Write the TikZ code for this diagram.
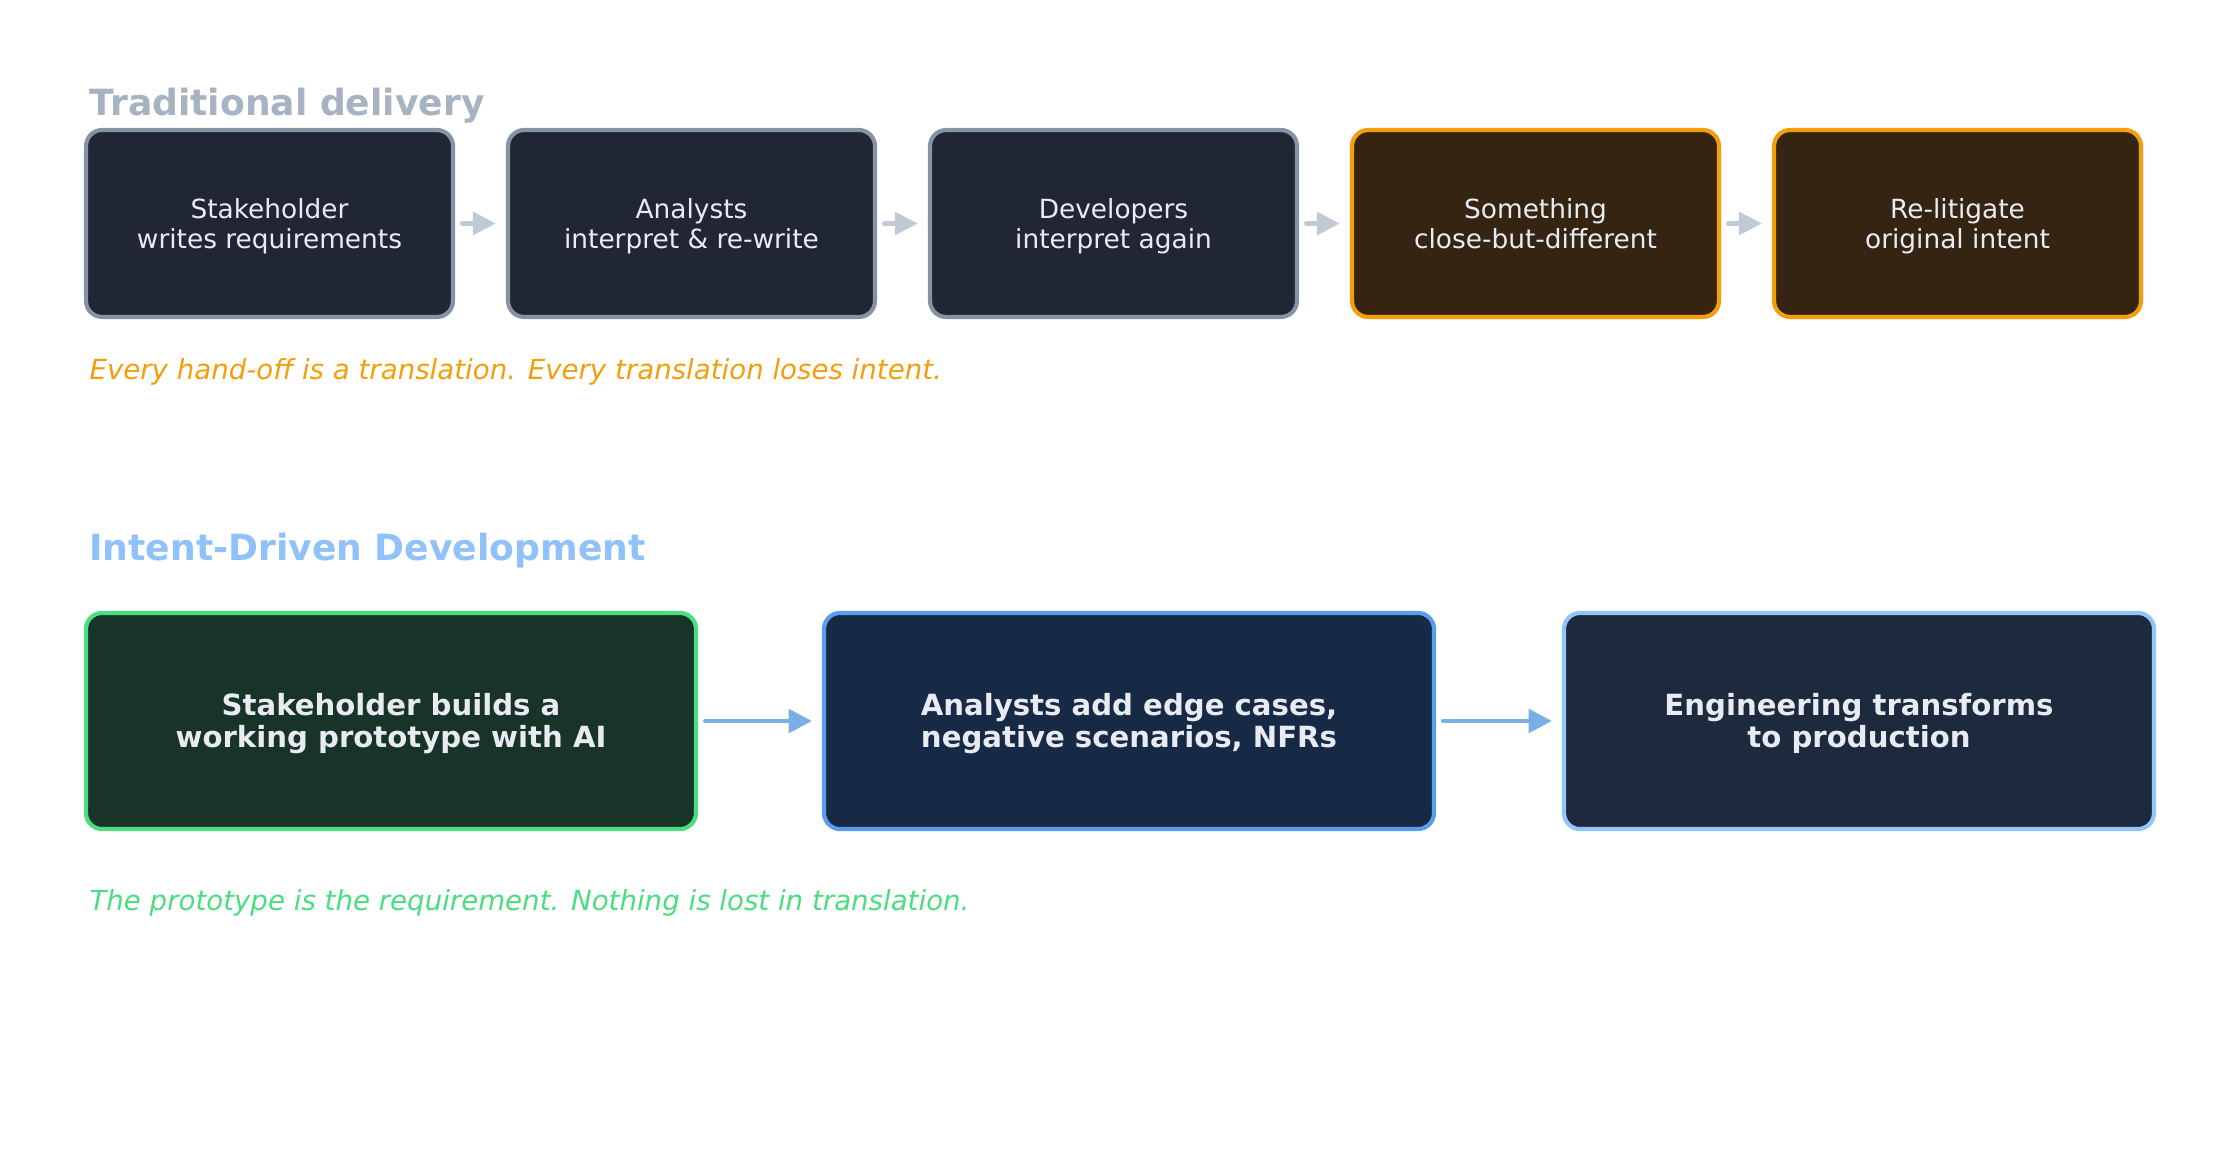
\documentclass[tikz,border=0pt]{standalone}
\usepackage{fontspec}
\setmainfont{DejaVu Sans}
\usetikzlibrary{arrows.meta}

\definecolor{titlegray}{HTML}{A7B3C2}
\definecolor{titleblue}{HTML}{90C2F9}
\definecolor{oldfill}{HTML}{202633}
\definecolor{oldline}{HTML}{8593A5}
\definecolor{warnfill}{HTML}{352412}
\definecolor{warnline}{HTML}{F59E0B}
\definecolor{oldarrow}{HTML}{C0CAD6}
\definecolor{greenfill}{HTML}{183328}
\definecolor{greenline}{HTML}{4ADE80}
\definecolor{bluefill}{HTML}{172A45}
\definecolor{blueline}{HTML}{5B9CF0}
\definecolor{navyfill}{HTML}{1D2A3E}
\definecolor{navyline}{HTML}{93C5FD}
\definecolor{newarrow}{HTML}{7AAEE6}
\definecolor{boxtext}{HTML}{E8ECF2}

% two-line box label with uniform line metrics, set slightly below centre
\newcommand{\twolines}[2]{\rule{0pt}{\dimexpr0.7\baselineskip+2.8pt\relax}#1\\#2\rule[-0.3\baselineskip]{0pt}{0pt}}

\tikzset{
  heading/.style={anchor=base west, inner sep=0pt, font=\fontsize{13}{15}\selectfont\bfseries},
  caption/.style={anchor=base west, inner sep=0pt, font=\fontsize{9.95}{12}\selectfont\itshape},
  oldbox/.style={rectangle, rounded corners=5.8pt, line width=1.5pt, draw=oldline, fill=oldfill,
    minimum width=132.1pt, minimum height=67.3pt, align=center, text=boxtext,
    font=\fontsize{9.5}{11}\selectfont, inner sep=0pt},
  warnbox/.style={oldbox, draw=warnline, fill=warnfill},
  newbox/.style={rectangle, rounded corners=5.8pt, line width=1.5pt, align=center, text=boxtext,
    minimum height=77.8pt, font=\fontsize{10.5}{11.7}\selectfont\bfseries, inner sep=0pt},
  oldflow/.style={draw=oldarrow, line width=1.9pt, line cap=round, shorten <=2.7pt, shorten >=3.6pt,
    -{Triangle[length=8.3pt, width=8pt]}},
  newflow/.style={draw=newarrow, line width=1.7pt, line cap=round, shorten <=2.6pt, shorten >=3.6pt,
    -{Triangle[length=8.4pt, width=8.4pt]}}
}

\begin{document}
\begin{tikzpicture}[x=0.36pt, y=-0.36pt]
  \useasboundingbox[fill=white] (0,0) rectangle (2240,1159);

  % Upper row: the hand-off chain
  \node[heading, text=titlegray] (t1) at (89,116) {Traditional delivery};

  \node[oldbox]  (a1) at (269.5,223.5)  {\twolines{Stakeholder}{writes requirements}};
  \node[oldbox]  (a2) at (691.5,223.5)  {\twolines{Analysts}{interpret \& re-write}};
  \node[oldbox]  (a3) at (1113.5,223.5) {\twolines{Developers}{interpret again}};
  \node[warnbox] (a4) at (1535.5,223.5) {\twolines{Something}{close-but-different}};
  \node[warnbox] (a5) at (1957.5,223.5) {\twolines{Re-litigate}{original intent}};

  \draw[oldflow] (a1) -- (a2);
  \draw[oldflow] (a2) -- (a3);
  \draw[oldflow] (a3) -- (a4);
  \draw[oldflow] (a4) -- (a5);

  \node[caption, text=warnline] (c1) at (89,380)
    {Every hand-off is a translation. Every translation loses intent.};

  % Lower row: the prototype-first chain
  \node[heading, text=titleblue] (t2) at (89,561) {Intent-Driven Development};

  \node[newbox, draw=greenline, fill=greenfill, minimum width=219.6pt] (b1) at (391,721)
    {\twolines{Stakeholder builds a}{working prototype with AI}};
  \node[newbox, draw=blueline, fill=bluefill, minimum width=219.6pt] (b2) at (1129,721)
    {\twolines{Analysts add edge cases,}{negative scenarios, NFRs}};
  \node[newbox, draw=navyline, fill=navyfill, minimum width=212.4pt] (b3) at (1859,721)
    {\twolines{Engineering transforms}{to production}};

  \draw[newflow] (b1) -- (b2);
  \draw[newflow] (b2) -- (b3);

  \node[caption, text=greenline] (c2) at (89,910)
    {The prototype is the requirement. Nothing is lost in translation.};
\end{tikzpicture}
\end{document}
